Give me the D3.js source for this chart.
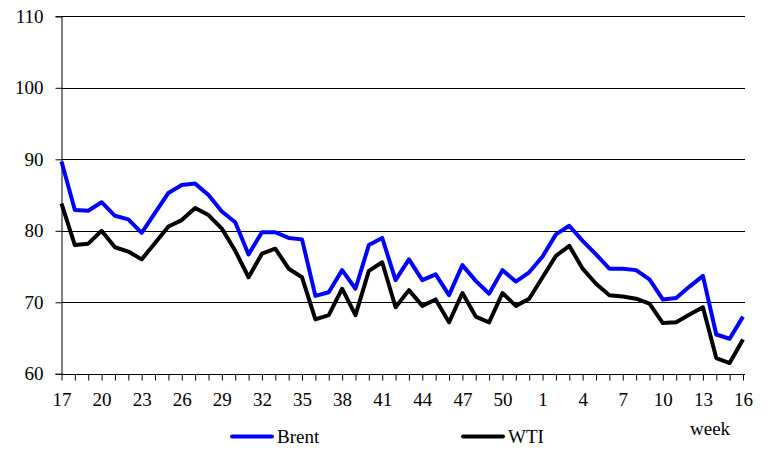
<!DOCTYPE html>
<html>
<head>
<meta charset="utf-8">
<script src="https://cdn.jsdelivr.net/npm/d3@7"></script>
<style>
html,body{margin:0;padding:0;background:#fff;}
</style>
</head>
<body>
<svg id="chart" width="768" height="460"></svg>
<script>
const weeks = [17,18,19,20,21,22,23,24,25,26,27,28,29,30,31,32,33,34,35,36,37,38,39,40,41,42,43,44,45,46,47,48,49,50,51,52,1,2,3,4,5,6,7,8,9,10,11,12,13,14,15,16];
const tickWeeks = [17,20,23,26,29,32,35,38,41,44,47,50,1,4,7,10,13,16];
const yTicks = [60,70,80,90,100,110];
const brent = [89.7,82.9,82.8,84.0,82.1,81.6,79.7,82.5,85.3,86.4,86.6,85.0,82.7,81.2,76.7,79.8,79.8,79.0,78.8,70.9,71.4,74.5,71.9,78.0,79.0,73.1,76.0,73.1,73.9,71.0,75.2,73.0,71.2,74.5,72.9,74.2,76.4,79.5,80.7,78.6,76.7,74.7,74.7,74.5,73.2,70.4,70.6,72.2,73.7,65.5,64.9,68.0];
const wti = [83.8,78.0,78.2,80.0,77.7,77.1,76.0,78.3,80.6,81.5,83.2,82.2,80.3,77.2,73.5,76.8,77.5,74.7,73.5,67.6,68.2,71.9,68.2,74.4,75.6,69.3,71.7,69.5,70.4,67.2,71.3,68.0,67.2,71.3,69.5,70.5,73.5,76.5,77.9,74.7,72.6,71.0,70.8,70.5,69.8,67.1,67.2,68.3,69.3,62.2,61.5,64.8];
const seriesNames = ["Brent","WTI"];
const colors = ["#0000ff","#000000"];

const FONT = "'Liberation Serif', 'Times New Roman', serif";
const svg = d3.select("#chart");
const pLeft = 61.5, pRight = 743, pTop = 16.3, pBottom = 373.8;

const x = d3.scalePoint().domain(weeks.map(String)).range([pLeft, pRight]);
const y = d3.scaleLinear().domain([60,110]).range([pBottom, pTop]);

// gridlines
svg.append("g").selectAll("line").data(yTicks.filter(v => v > 60)).join("line")
  .attr("x1", pLeft).attr("x2", 745)
  .attr("y1", d => Math.round(y(d)) + 0.5).attr("y2", d => Math.round(y(d)) + 0.5)
  .attr("stroke", "#000").attr("stroke-width", 1);

// y axis
const yAxis = svg.append("g").attr("transform", `translate(${pLeft},0)`)
  .call(d3.axisLeft(y).tickValues(yTicks).tickSize(6).tickPadding(12).tickFormat(d3.format("d")));
yAxis.select(".domain").attr("stroke", "#000");
yAxis.selectAll(".tick line").attr("stroke", "#000");
yAxis.selectAll("text").style("font-size", "19px").style("font-family", FONT).attr("fill", "#000");

// x axis
const xAxis = svg.append("g").attr("transform", `translate(0,${Math.round(pBottom) + 0.5})`)
  .call(d3.axisBottom(x).tickSize(6).tickSizeOuter(0).tickPadding(12)
    .tickFormat(d => tickWeeks.includes(+d) ? d : ""));
xAxis.select(".domain").attr("stroke", "#000").attr("d", `M${pLeft},0H${pRight + 2}`);
xAxis.selectAll(".tick line").attr("stroke", "#000");
xAxis.selectAll("text").style("font-size", "19px").style("font-family", FONT).attr("fill", "#000");

// lines
const line = d3.line().x((d, i) => x(String(weeks[i]))).y(d => y(d)).curve(d3.curveLinear);
[brent, wti].forEach((s, k) => {
  svg.append("path").datum(s).attr("d", line)
    .attr("fill", "none").attr("stroke", colors[k]).attr("stroke-width", 4)
    .attr("stroke-linejoin", "round");
});

// axis title
svg.append("text").attr("x", 690).attr("y", 435)
  .style("font-size", "19px").style("font-family", FONT).text("week");

// legend
const legendX = [232, 463];
seriesNames.forEach((n, k) => {
  svg.append("line").attr("x1", legendX[k]).attr("x2", legendX[k] + 40)
    .attr("y1", 436.5).attr("y2", 436.5)
    .attr("stroke", colors[k]).attr("stroke-width", 4).attr("stroke-linecap", "round");
  svg.append("text").attr("x", legendX[k] + 45).attr("y", 443)
    .style("font-size", "19px").style("font-family", FONT).text(n);
});
</script>
</body>
</html>
